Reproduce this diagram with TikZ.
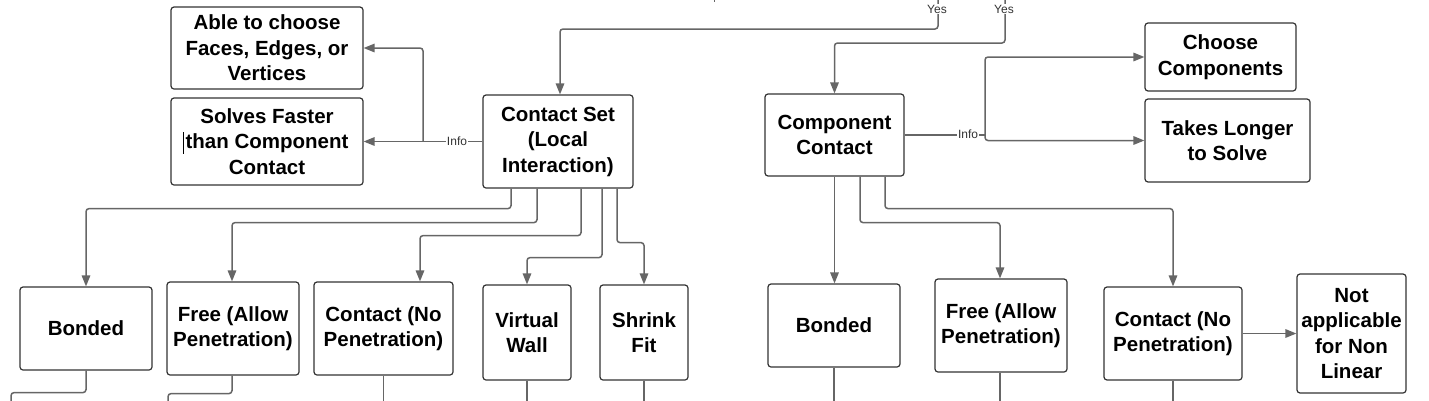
\documentclass[tikz,border=0pt]{standalone}
\usepackage{fontspec}
\setmainfont{Liberation Sans}
\usetikzlibrary{arrows.meta}
\definecolor{linegray}{HTML}{666666}
\definecolor{boxgray}{HTML}{333333}
\tikzset{
  box/.style={draw=boxgray, line width=1.2pt, rounded corners=3pt, align=center,
    inner sep=2pt, font=\fontsize{20.5}{25.5}\selectfont\bfseries, text=black},
  conn/.style={draw=linegray, line width=1.5pt, rounded corners=3pt},
  arr/.style={conn, -{Triangle[length=11pt,width=8.5pt]}},
  lbl/.style={fill=white, inner sep=1pt, text=boxgray, font=\fontsize{12}{14}\selectfont},
}
\begin{document}
\begin{tikzpicture}[x=1pt,y=-1pt]
\useasboundingbox (0,0) rectangle (1429,400);
% boxes
\node[box, minimum width=192pt, minimum height=82pt] (able) at (267,48) {Able to choose\\Faces, Edges, or\\Vertices};
\node[box, minimum width=192pt, minimum height=87pt] (solves) at (267,141.5) {Solves Faster\\than Component\\Contact};
\node[box, minimum width=150pt, minimum height=93pt] (cset) at (558,141.5) {Contact Set\\(Local\\Interaction)};
\node[box, minimum width=139pt, minimum height=82pt] (comp) at (834.5,135) {Component\\Contact};
\node[box, minimum width=151pt, minimum height=68pt] (choose) at (1220.5,57) {Choose\\Components};
\node[box, minimum width=165pt, minimum height=83pt] (takes) at (1227.5,140.5) {Takes Longer\\to Solve};
\node[box, minimum width=132pt, minimum height=83pt] (bond1) at (86,328.5) {Bonded};
\node[box, minimum width=132pt, minimum height=93pt] (free1) at (233,328.5) {Free (Allow\\Penetration)};
\node[box, minimum width=139pt, minimum height=93pt] (cont1) at (383.5,328.5) {Contact (No\\Penetration)};
\node[box, minimum width=88pt, minimum height=95pt] (vwall) at (527,332.5) {Virtual\\Wall};
\node[box, minimum width=88pt, minimum height=95pt] (shrink) at (644,332.5) {Shrink\\Fit};
\node[box, minimum width=132pt, minimum height=83pt] (bond2) at (834,325.5) {Bonded};
\node[box, minimum width=132pt, minimum height=93pt] (free2) at (1001,325.5) {Free (Allow\\Penetration)};
\node[box, minimum width=138pt, minimum height=93pt] (cont2) at (1173,333.5) {Contact (No\\Penetration)};
\node[box, minimum width=109pt, minimum height=119pt] (notap) at (1351.5,333.5) {Not\\applicable\\for Non\\Linear};
% text cursor artifact
\draw[black, line width=0.8pt] (183,132) -- (183,154);
% tick at top
\draw[linegray, line width=1pt] (714,-2) -- (714,2);
% Yes connectors
\coordinate (y1top) at (938,-5);
\coordinate (y2top) at (1005,-5);
\draw[arr] (y1top) -- ++(0,34) -| ([xshift=2pt]cset.north);
\draw[arr] (y2top) -- ++(0,48) -| (comp.north);
\node[lbl] (yes1) at (937,9) {Yes};
\node[lbl] (yes2) at (1004,9) {Yes};
% Info from contact set
\coordinate (j1) at (423,141.5);
\draw[conn] (cset.west) -- (j1);
\draw[arr] (j1) -- (solves.east);
\draw[arr] (j1) |- (able.east);
\node[lbl] (info1) at (457,141) {Info};
% Info from component contact
\coordinate (j2) at (985,135);
\draw[conn] (comp.east) -- (j2);
\draw[arr] (j2) |- (choose.west);
\draw[arr] (j2) |- (takes.west);
\node[lbl] (info2) at (968,134) {Info};
% Contact set children
\draw[arr] ([xshift=-47pt]cset.south) -- ++(0,20) -| (bond1.north);
\draw[arr] ([xshift=-21pt]cset.south) -- ++(0,34) -| ([xshift=-1pt]free1.north);
\draw[arr] ([xshift=23pt]cset.south) -- ++(0,47) -| ([xshift=36.5pt]cont1.north);
\draw[arr] ([xshift=44pt]cset.south) -- ++(0,69) -| (vwall.north);
\draw[arr] ([xshift=59pt]cset.south) -- ++(0,54) -| (shrink.north);
% Component contact children
\draw[arr] (comp.south) -- (comp.south |- bond2.north);
\draw[arr] ([xshift=25.5pt]comp.south) -- ++(0,46) -| ([xshift=-1pt]free2.north);
\draw[arr] ([xshift=50.5pt]comp.south) -- ++(0,32) -| (cont2.north);
\draw[arr] (cont2.east) -- (notap.west);
% lines continuing off the bottom
\coordinate (o1) at (11,410);
\coordinate (o2) at (168,410);
\draw[conn] (bond1.south) -- ++(0,22) -| (o1);
\draw[conn] ([xshift=-1pt]free1.south) -- ++(0,18) -| (o2);
\draw[conn] (cont1.south) -- ++(0,30);
\draw[conn] (vwall.south) -- ++(0,30);
\draw[conn] (shrink.south) -- ++(0,30);
\draw[conn] (bond2.south) -- ++(0,40);
\draw[conn] ([xshift=-1pt]free2.south) -- ++(0,40);
\draw[conn] (cont2.south) -- ++(0,30);
\end{tikzpicture}
\end{document}
